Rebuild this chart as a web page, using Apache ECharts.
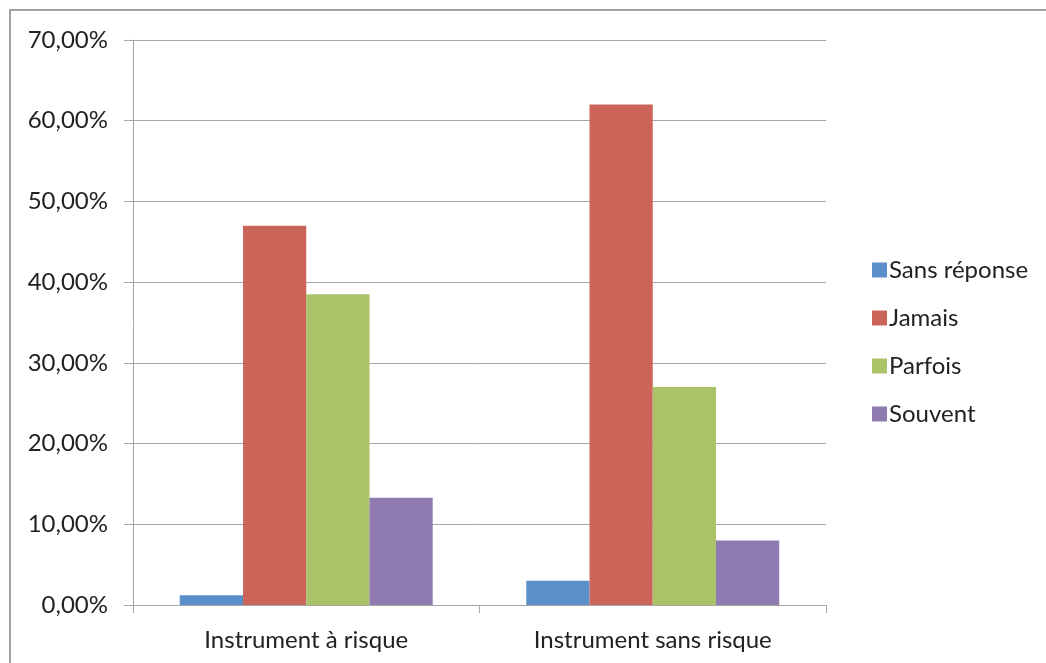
<!DOCTYPE html>
<html><head><meta charset="utf-8">
<script src="https://cdn.jsdelivr.net/npm/echarts@6/dist/echarts.min.js"></script>
<style>html,body{margin:0;padding:0;background:#fff}#c{width:1046px;height:663px}
#frame{position:absolute;left:9px;top:9px;width:1060px;height:700px;border:2px solid #a0a0a0;box-sizing:border-box;pointer-events:none}</style>
</head><body><div id="c"></div><div id="frame"></div>
<script>
const categories = ['Instrument à risque', 'Instrument sans risque'];
const seriesNames = ['Sans réponse', 'Jamais', 'Parfois', 'Souvent'];
const sansReponse = [1.2, 3.0];
const jamais = [47.0, 62.0];
const parfois = [38.5, 27.0];
const souvent = [13.3, 8.0];
const colors = ['#5b8fc9', '#cb655a', '#aac368', '#8f7bb0'];
const values = [sansReponse, jamais, parfois, souvent];
const font = 'Lato, "Open Sans", sans-serif';
const chart = echarts.init(document.getElementById('c'));
chart.setOption({
  animation: false,
  color: colors,
  grid: {left: 133, right: 220, top: 40, bottom: 58, containLabel: false},
  legend: {
    orient: 'vertical', left: 867, top: 253, itemWidth: 15, itemHeight: 15, itemGap: 24,
    icon: 'rect',
    textStyle: {fontFamily: font, fontSize: 24, color: '#222', padding: [0,0,0,-3]},
    data: seriesNames
  },
  xAxis: {
    type: 'category', data: categories,
    axisLine: {lineStyle: {color: '#a6a6a6', width: 1}},
    axisTick: {show: true, length: 8, lineStyle: {color: '#a6a6a6'}},
    axisLabel: {fontFamily: font, fontSize: 24, color: '#222', margin: 23}
  },
  yAxis: {
    type: 'value', min: 0, max: 70, interval: 10,
    axisLine: {show: true, lineStyle: {color: '#a6a6a6'}},
    axisTick: {show: true, length: 9, lineStyle: {color: '#a6a6a6'}},
    splitLine: {lineStyle: {color: '#a6a6a6'}},
    axisLabel: {fontFamily: font, fontSize: 24, color: '#222', margin: 25,
      formatter: v => v.toFixed(2).replace('.', ',') + '%'}
  },
  series: seriesNames.map((n, i) => ({
    name: n, type: 'bar', data: values[i], barGap: '0%', barCategoryGap: '27%'
  }))
});
</script></body></html>
